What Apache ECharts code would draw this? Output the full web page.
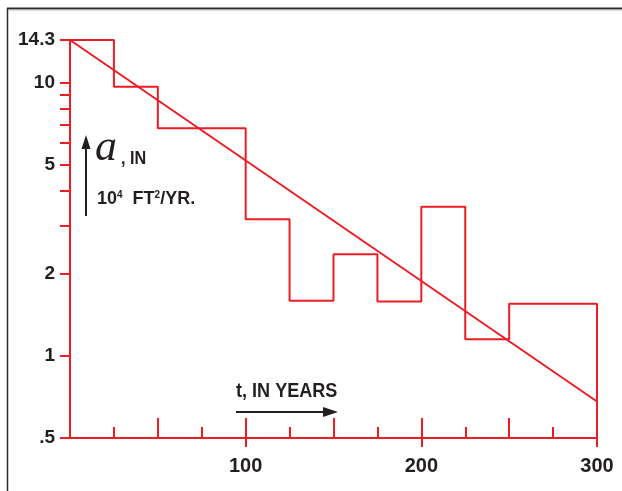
<!DOCTYPE html>
<html><head><meta charset="utf-8">
<script src="https://cdn.jsdelivr.net/npm/echarts@6/dist/echarts.min.js"></script>
<style>html,body{margin:0;padding:0;background:#fff}#c{width:622px;height:491px}</style>
</head><body><div id="c"></div>
<script>
// ---- data ----
const binEdges = [0, 25, 50, 100, 125, 150, 175, 200, 225, 250, 300];
const binValues = [14.3, 9.65, 6.8, 3.16, 1.59, 2.35, 1.58, 3.51, 1.15, 1.55];
const fitLineX = [0, 300];
const fitLineY = [14.3, 0.68];
const yMin = 0.5, yMax = 14.3;
const xMin = 0, xMax = 300;
const yLabelValues = [0.5, 1, 2, 5, 10, 14.3];
const yLabelTexts = ['.5', '1', '2', '5', '10', '14.3'];
const yTickValues = [0.5, 1, 2, 3, 4, 5, 6, 7, 8, 9, 10, 14.3];
const xLabelValues = [100, 200, 300];
const xShortTicks = [25, 75, 125, 175, 225, 275];
const xLongTicks = [50, 100, 150, 200, 250];
const xDownTicks = [100, 200, 300];

// ---- build series data ----
const histPoints = [];
for (let i = 0; i < binValues.length; i++) {
  histPoints.push([binEdges[i], binValues[i]]);
  histPoints.push([binEdges[i + 1], binValues[i]]);
}
histPoints.push([binEdges[binEdges.length - 1], yMin]);
const fitPoints = fitLineX.map((x, i) => [x, fitLineY[i]]);

const RED = '#ec1c24';
const TXT = '#231f20';
const SANS = '"Liberation Sans", Arial, sans-serif';

function yFmt(v) {
  for (let i = 0; i < yLabelValues.length; i++) {
    if (Math.abs(yLabelValues[i] - v) < 1e-6) return yLabelTexts[i];
  }
  return String(v);
}

const baseX = { type: 'value', min: xMin, max: xMax, position: 'bottom', splitLine: { show: false } };
const tickStyle = { color: RED, width: 2 };

const chart = echarts.init(document.getElementById('c'), null, { renderer: 'canvas' });
chart.setOption({
  animation: false,
  backgroundColor: '#fff',
  grid: { left: 70, right: 25, top: 40, bottom: 53, containLabel: false, outerBoundsMode: 'none' },
  xAxis: [
    Object.assign({}, baseX, {
      axisLine: { show: true, onZero: false, lineStyle: { color: RED, width: 2 } },
      axisTick: { show: true, inside: true, length: 11, customValues: xShortTicks, lineStyle: tickStyle },
      axisLabel: { show: true, customValues: xLabelValues, margin: 18, color: TXT, fontFamily: SANS, fontSize: 20, fontWeight: 'bold' }
    }),
    Object.assign({}, baseX, {
      axisLine: { show: false, onZero: false },
      axisTick: { show: true, inside: true, length: 20, customValues: xLongTicks, lineStyle: tickStyle },
      axisLabel: { show: false }
    }),
    Object.assign({}, baseX, {
      axisLine: { show: false, onZero: false },
      axisTick: { show: true, inside: false, length: 9, customValues: xDownTicks, lineStyle: tickStyle },
      axisLabel: { show: false }
    })
  ],
  yAxis: {
    type: 'log', logBase: 10, min: yMin, max: yMax,
    axisLine: { show: true, onZero: false, lineStyle: { color: RED, width: 2 } },
    axisTick: { show: true, inside: false, length: 10, customValues: yTickValues, lineStyle: tickStyle },
    axisLabel: { show: true, customValues: yLabelValues, formatter: yFmt, margin: 15, color: TXT, fontFamily: SANS, fontSize: 19, fontWeight: 'bold' },
    splitLine: { show: false },
    minorTick: { show: false }
  },
  series: [
    { type: 'line', xAxisIndex: 0, data: histPoints, symbol: 'none', clip: false,
      lineStyle: { color: RED, width: 2 }, z: 3 },
    { type: 'line', xAxisIndex: 0, data: fitPoints, symbol: 'none', clip: false,
      lineStyle: { color: RED, width: 2 }, z: 3 }
  ],
  graphic: [
    { type: 'line', shape: { x1: 7.5, y1: 8, x2: 7.5, y2: 491 }, style: { stroke: '#2a2a2a', lineWidth: 1.5 } },
    { type: 'line', shape: { x1: 7, y1: 8.5, x2: 622, y2: 8.5 }, style: { stroke: '#2a2a2a', lineWidth: 2 } },
    { type: 'line', shape: { x1: 8, y1: 10, x2: 622, y2: 10 }, style: { stroke: '#bbbbbb', lineWidth: 1 } },
    // y annotation arrow
    { type: 'line', shape: { x1: 86, y1: 147, x2: 86, y2: 216 }, style: { stroke: TXT, lineWidth: 2 } },
    { type: 'polygon', shape: { points: [[81.5, 149], [86, 135], [90.5, 149]] }, style: { fill: TXT } },
    { type: 'text', x: 95, y: 148, style: { text: 'a', font: 'italic 44px "Liberation Serif", "Times New Roman", serif', fill: TXT, verticalAlign: 'middle', align: 'left' } },
    { type: 'text', x: 121, y: 159, scaleX: 0.9, style: { text: ', IN', font: 'bold 18px ' + SANS, fill: TXT, verticalAlign: 'middle', align: 'left' } },
    { type: 'text', x: 97, y: 190, style: {
        text: '{n|10}{s|4}{n|  FT}{s|2}{n|/YR.}', fill: TXT, verticalAlign: 'top', align: 'left',
        rich: {
          n: { fontFamily: SANS, fontWeight: 'bold', fontSize: 18, fill: TXT, verticalAlign: 'bottom' },
          s: { fontFamily: SANS, fontWeight: 'bold', fontSize: 10, fill: TXT, verticalAlign: 'top' }
        } } },
    // x annotation
    { type: 'text', x: 236, y: 391, scaleX: 0.86, style: { text: 't, IN YEARS', font: 'bold 21px ' + SANS, fill: TXT, verticalAlign: 'middle', align: 'left' } },
    { type: 'line', shape: { x1: 236, y1: 412, x2: 326, y2: 412 }, style: { stroke: TXT, lineWidth: 2 } },
    { type: 'polygon', shape: { points: [[323, 407], [338, 412], [323, 417]] }, style: { fill: TXT } }
  ]
});
</script>
</body></html>
